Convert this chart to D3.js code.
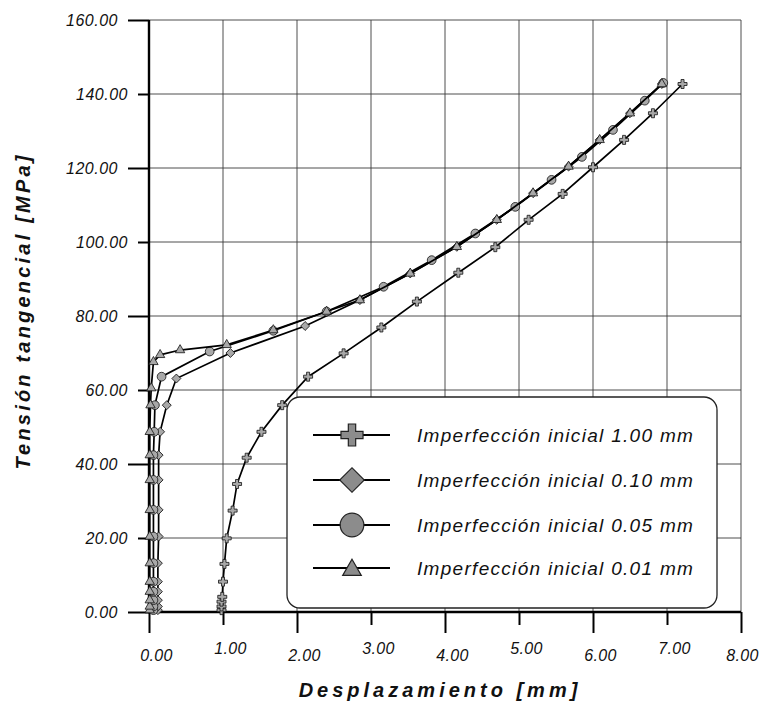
<!DOCTYPE html>
<html><head><meta charset="utf-8">
<script src="https://cdn.jsdelivr.net/npm/d3@7"></script>
<style>body{margin:0;background:#fff} svg{display:block}</style>
</head><body><svg id="c" width="761" height="712"></svg>
<script>
// ---- data ----
const xTicks = [0,1,2,3,4,5,6,7,8];
const yTicks = [0,20,40,60,80,100,120,140,160];
const xTitle = "Desplazamiento [mm]";
const yTitle = "Tensión tangencial [MPa]";
const seriesNames = ["Imperfección inicial 1.00 mm","Imperfección inicial 0.10 mm","Imperfección inicial 0.05 mm","Imperfección inicial 0.01 mm"];

const s100X = [0.98,0.98,0.98,0.99,1.00,1.02,1.05,1.13,1.19,1.32,1.52,1.80,2.15,2.63,3.14,3.62,4.18,4.68,5.13,5.59,6.00,6.42,6.81,7.21];
const s100Y = [0.5,1.5,2.8,4.1,8.2,13.0,19.9,27.4,34.6,41.7,48.7,55.9,63.6,69.9,76.9,83.9,91.7,98.6,106.0,113.0,120.2,127.6,134.8,142.7];

const s010X = [0.12,0.12,0.12,0.12,0.12,0.12,0.13,0.13,0.13,0.13,0.15,0.24,0.37,1.10,2.11,2.85,3.53,4.16,4.70,5.19,5.67,6.09,6.50,6.93];
const s010Y = [0.5,1.5,3.2,5.5,8.2,13.2,20.4,27.6,35.7,42.4,48.7,55.9,63.1,70.0,77.3,84.3,91.5,98.7,106.0,113.2,120.4,127.6,134.8,142.7];

const s005X = [0.06,0.06,0.06,0.06,0.06,0.06,0.06,0.06,0.06,0.06,0.07,0.08,0.17,0.82,1.68,2.40,3.17,3.82,4.41,4.95,5.44,5.85,6.27,6.70,6.95];
const s005Y = [0.5,1.5,3.2,5.5,8.2,13.2,20.4,27.6,35.7,42.4,48.7,55.9,63.6,70.4,76.0,81.2,87.9,95.1,102.3,109.5,116.8,123.0,130.3,138.2,143.0];

const s001X = [0.01,0.01,0.01,0.01,0.01,0.01,0.01,0.01,0.01,0.01,0.01,0.02,0.03,0.06,0.15,0.42,1.05,1.68,2.40,2.85,3.53,4.16,4.70,5.19,5.67,6.09,6.50,6.93];
const s001Y = [0.5,1.5,3.2,5.5,8.2,13.2,20.4,27.6,35.7,42.4,48.7,55.9,60.5,67.6,69.5,70.8,72.2,76.2,81.2,84.3,91.5,98.7,106.0,113.2,120.4,127.6,134.8,142.7];

// ---- chart ----
const FONT = "'Liberation Sans', Arial, Helvetica, sans-serif";
const svg = d3.select("#c");
const x = d3.scaleLinear().domain([0,8]).range([149,741]);
const y = d3.scaleLinear().domain([0,160]).range([612,20]);

// grid
const grid = svg.append("g").attr("stroke","#3a3a3a").attr("stroke-width",0.9);
xTicks.filter(d=>d>0).forEach(d=>{
  grid.append("line").attr("x1",x(d)).attr("x2",x(d)).attr("y1",y(0)).attr("y2",y(160));
});
yTicks.filter(d=>d>0).forEach(d=>{
  grid.append("line").attr("x1",x(0)).attr("x2",x(8)).attr("y1",y(d)).attr("y2",y(d));
});

// axes
const yAxis = d3.axisLeft(y).tickValues(yTicks).tickFormat(d=>d.toFixed(2)).tickSize(21);
const gy = svg.append("g").attr("transform",`translate(${x(0)},0)`).call(yAxis);
gy.select(".domain").remove();
gy.selectAll(".tick line").attr("stroke","#000").attr("stroke-width",2)
  .attr("x2",d=>(d/20)%2===0?-21:-11);
gy.selectAll(".tick text").attr("x",d=>(d/20)%2===0?-31:-21)
  .attr("font-family",FONT).attr("font-style","italic").attr("font-size",16)
  .attr("letter-spacing",0.5).attr("fill","#111");

const xAxis = d3.axisBottom(x).tickValues(xTicks).tickFormat(d=>d.toFixed(2)).tickSize(20);
const gx = svg.append("g").attr("transform",`translate(0,${y(0)})`).call(xAxis);
gx.select(".domain").remove();
gx.selectAll(".tick line").attr("stroke","#000").attr("stroke-width",2)
  .attr("y2",d=>d%2===0?21:13);
gx.selectAll(".tick text").attr("x",d=>d===8?1:7).attr("y",d=>d%2===0?43:36).attr("dy","0.35em")
  .attr("font-family",FONT).attr("font-style","italic").attr("font-size",16)
  .attr("letter-spacing",0.3).attr("fill","#111");

svg.append("line").attr("x1",x(0)).attr("x2",x(0)).attr("y1",y(0)+1).attr("y2",y(160))
  .attr("stroke","#000").attr("stroke-width",2.4);
svg.append("line").attr("x1",x(0)-1).attr("x2",x(8)).attr("y1",y(0)).attr("y2",y(0))
  .attr("stroke","#000").attr("stroke-width",2.4);

// titles
svg.append("text").attr("x",440).attr("y",690).attr("text-anchor","middle")
  .attr("dominant-baseline","central")
  .attr("font-family",FONT).attr("font-style","italic").attr("font-weight","bold")
  .attr("font-size",20).attr("letter-spacing",4).attr("fill","#111").text(xTitle);
svg.append("text").attr("transform","translate(23,311) rotate(-90)").attr("text-anchor","middle")
  .attr("dominant-baseline","central")
  .attr("font-family",FONT).attr("font-style","italic").attr("font-weight","bold")
  .attr("font-size",20).attr("letter-spacing",3.2).attr("fill","#111").text(yTitle);

// series
const series = [
  {xs:s100X, ys:s100Y, sym:d3.symbolCross, size:45, big:270, rot:0},
  {xs:s010X, ys:s010Y, sym:d3.symbolSquare, size:40, big:300, rot:45},
  {xs:s005X, ys:s005Y, sym:d3.symbolCircle, size:60, big:440, rot:0},
  {xs:s001X, ys:s001Y, sym:d3.symbolTriangle, size:38, big:150, rot:0}
];
const line = d3.line().x(d=>x(d[0])).y(d=>y(d[1]));
series.forEach(s=>{
  const pts = s.xs.map((v,i)=>[v,s.ys[i]]);
  svg.append("path").attr("d",line(pts)).attr("fill","none")
    .attr("stroke","#000").attr("stroke-width",1.7);
  svg.append("g").selectAll("path").data(pts).join("path")
    .attr("d",d3.symbol().type(s.sym).size(s.size))
    .attr("transform",d=>`translate(${x(d[0])},${y(d[1])}) rotate(${s.rot})`)
    .attr("fill","#a8a8a8").attr("stroke","#111").attr("stroke-width",0.8);
});

// legend
const lg = svg.append("g");
lg.append("rect").attr("x",287).attr("y",397).attr("width",430).attr("height",211)
  .attr("rx",13).attr("fill","#fff").attr("stroke","#222").attr("stroke-width",1.3);
const rowsY = [435,480,525,568];
series.forEach((s,i)=>{
  const yy = rowsY[i];
  lg.append("line").attr("x1",313).attr("x2",390).attr("y1",yy).attr("y2",yy)
    .attr("stroke","#000").attr("stroke-width",1.8);
  lg.append("path").attr("d",d3.symbol().type(s.sym).size(s.big)())
    .attr("transform",`translate(352,${yy + (i===3?2:0)}) rotate(${s.rot})`)
    .attr("fill","#8c8c8c").attr("stroke","#222").attr("stroke-width",1.2);
  lg.append("text").attr("x",417).attr("y",yy).attr("dominant-baseline","central")
    .attr("font-family",FONT).attr("font-style","italic").attr("font-size",19)
    .attr("letter-spacing",1.3).attr("fill","#111").text(seriesNames[i]);
});
</script>
</body></html>
